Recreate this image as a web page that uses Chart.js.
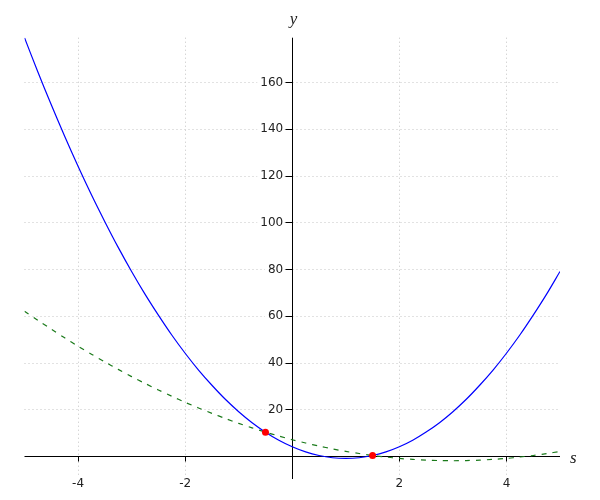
<!DOCTYPE html>
<html lang="en">
<head>
    <meta charset="UTF-8">
    <title>Two curves in s</title>
    <style>
        body {
            margin: 0;
            padding: 0;
            background: #fff;
        }
        #wrap {
            width: 600px;
            height: 500px;
        }
    </style>
</head>
<body>
    <div id="wrap">
        <canvas id="curveChart" width="600" height="500"></canvas>
    </div>

    <script src="https://cdn.jsdelivr.net/npm/chart.js"></script>
    <script>
        // values, step 0.25 in s
        var sVals = [-5, -4.75, -4.5, -4.25, -4, -3.75, -3.5, -3.25, -3, -2.75, -2.5, -2.25, -2, -1.75, -1.5, -1.25,
            -1, -0.75, -0.5, -0.25, 0, 0.25, 0.5, 0.75, 1, 1.25, 1.5, 1.75, 2, 2.25, 2.5, 2.75, 3, 3.25, 3.5, 3.75,
            4, 4.25, 4.5, 4.75, 5];
        var blueVals = [179, 164.3, 150.3, 136.8, 124, 111.8, 100.3, 89.3, 79, 69.3, 60.3, 51.8, 44, 36.8, 30.3, 24.3,
            19, 14.3, 10.25, 6.8, 4, 1.8, 0.25, -0.7, -1, -0.7, 0.25, 1.8, 4, 6.8, 10.3, 14.3, 19, 24.3, 30.3, 36.8,
            44, 51.8, 60.3, 69.3, 79];
        var greenVals = [62, 58.1, 54.3, 50.6, 47, 43.6, 40.3, 37.1, 34, 31.1, 28.3, 25.6, 23, 20.6, 18.3, 16.1,
            14, 12.1, 10.25, 8.6, 7, 5.6, 4.3, 3.1, 2, 1.1, 0.25, -0.4, -1, -1.4, -1.75, -1.9, -2, -1.9, -1.75, -1.4,
            -1, -0.4, 0.25, 1.1, 2];
        var dotS = [-0.5, 1.5];
        var dotY = [10.25, 0.25];
        var xTicks = [-4, -2, 2, 4];
        var yTicks = [20, 40, 60, 80, 100, 120, 140, 160];

        function pts(xs, ys) {
            return xs.map(function (x, i) { return { x: x, y: ys[i] }; });
        }

        var axesPlugin = {
            id: 'axesPlugin',
            beforeDatasetsDraw: function (chart) {
                var ctx = chart.ctx;
                var xs = chart.scales.x, ys = chart.scales.y;
                var area = chart.chartArea;
                var x0 = xs.getPixelForValue(0), y0 = ys.getPixelForValue(0);
                ctx.save();

                // dotted grid
                ctx.strokeStyle = '#c4c4c4';
                ctx.lineWidth = 1;
                ctx.setLineDash([1, 3]);
                xTicks.forEach(function (t) {
                    var px = Math.round(xs.getPixelForValue(t)) + 0.5;
                    ctx.beginPath();
                    ctx.moveTo(px, area.top);
                    ctx.lineTo(px, area.bottom);
                    ctx.stroke();
                });
                yTicks.forEach(function (t) {
                    var py = Math.round(ys.getPixelForValue(t)) + 0.5;
                    ctx.beginPath();
                    ctx.moveTo(area.left, py);
                    ctx.lineTo(area.right, py);
                    ctx.stroke();
                });
                ctx.setLineDash([]);

                // tick labels
                ctx.font = '12px "DejaVu Sans"';
                ctx.fillStyle = '#222';
                ctx.textAlign = 'right';
                ctx.textBaseline = 'middle';
                yTicks.forEach(function (t) {
                    var py = ys.getPixelForValue(t);
                    var w = ctx.measureText(String(t)).width;
                    ctx.fillStyle = '#fff';
                    ctx.fillRect(x0 - 10 - w - 2, py - 7, w + 4, 14);
                    ctx.fillStyle = '#222';
                    ctx.fillText(String(t), x0 - 9, py + 0.5);
                });
                ctx.textAlign = 'center';
                ctx.textBaseline = 'alphabetic';
                xTicks.forEach(function (t) {
                    var px = xs.getPixelForValue(t);
                    var w = ctx.measureText(String(t)).width;
                    ctx.fillStyle = '#fff';
                    ctx.fillRect(px - w / 2 - 2, y0 + 20, w + 4, 14);
                    ctx.fillStyle = '#222';
                    ctx.fillText(String(t), px, y0 + 31);
                });

                // axes and ticks
                ctx.strokeStyle = '#000';
                ctx.lineWidth = 1;
                var ax = Math.round(x0) + 0.5, ay = Math.round(y0) + 0.5;
                ctx.beginPath();
                ctx.moveTo(area.left, ay);
                ctx.lineTo(area.right, ay);
                ctx.moveTo(ax, area.top);
                ctx.lineTo(ax, area.bottom);
                xTicks.forEach(function (t) {
                    var px = Math.round(xs.getPixelForValue(t)) + 0.5;
                    ctx.moveTo(px, ay);
                    ctx.lineTo(px, ay + 5);
                });
                yTicks.forEach(function (t) {
                    var py = Math.round(ys.getPixelForValue(t)) + 0.5;
                    ctx.moveTo(ax - 7, py);
                    ctx.lineTo(ax, py);
                });
                ctx.stroke();

                // axis names
                ctx.font = 'italic 17px "Liberation Serif"';
                ctx.fillStyle = '#222';
                ctx.textAlign = 'center';
                ctx.fillText('y', ax + 1, area.top - 14);
                ctx.textAlign = 'left';
                ctx.fillText('s', area.right + 10, ay + 6);
                ctx.restore();
            }
        };

        var ctx = document.getElementById('curveChart').getContext('2d');
        var curveChart = new Chart(ctx, {
            type: 'line',
            data: {
                datasets: [
                    {
                        label: 'dots',
                        data: pts(dotS, dotY),
                        showLine: false,
                        pointRadius: 3.5,
                        pointBackgroundColor: '#ff0000',
                        pointBorderColor: '#ff0000',
                        pointBorderWidth: 0,
                        order: 0
                    },
                    {
                        label: 'blue',
                        data: pts(sVals, blueVals),
                        borderColor: '#0000ff',
                        borderWidth: 1.2,
                        pointRadius: 0,
                        tension: 0.3,
                        fill: false,
                        order: 1
                    },
                    {
                        label: 'green',
                        data: pts(sVals, greenVals),
                        borderColor: '#1a7a1a',
                        borderWidth: 1.2,
                        borderDash: [5, 6],
                        pointRadius: 0,
                        tension: 0.3,
                        fill: false,
                        order: 2
                    }
                ]
            },
            options: {
                responsive: false,
                animation: false,
                events: [],
                layout: {
                    padding: { left: 24.5, right: 40, top: 37.7, bottom: 21 }
                },
                plugins: {
                    legend: { display: false },
                    tooltip: { enabled: false }
                },
                scales: {
                    x: { type: 'linear', min: -5, max: 5, display: false },
                    y: { type: 'linear', min: -9.8, max: 179, display: false }
                }
            },
            plugins: [axesPlugin]
        });
    </script>
</body>
</html>
